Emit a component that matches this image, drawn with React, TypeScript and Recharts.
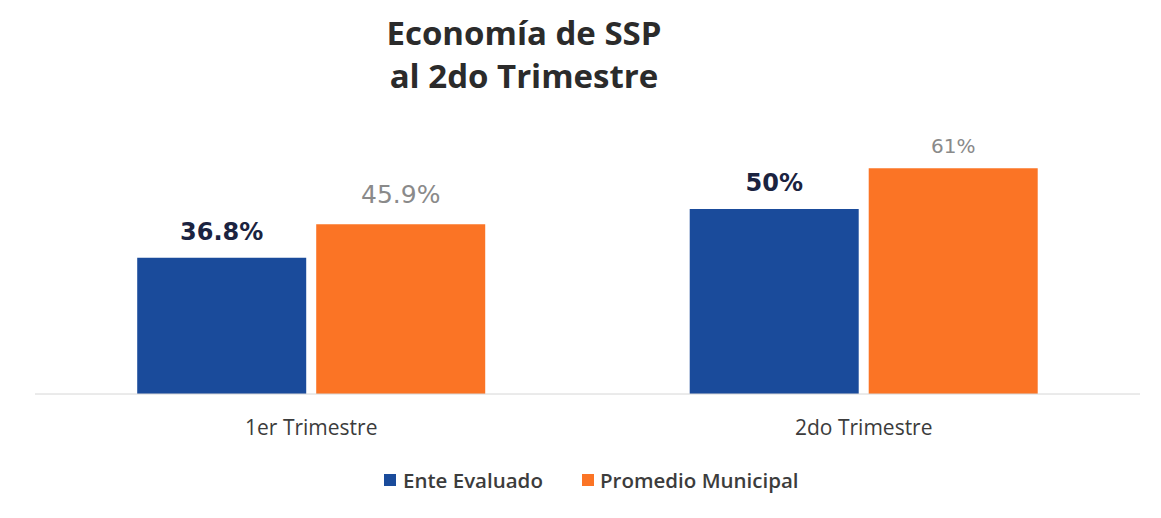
import React from "react";
import { BarChart, Bar, XAxis, YAxis, LabelList } from "recharts";

const categories = ["1er Trimestre", "2do Trimestre"];
const enteEvaluado = [36.8, 50];
const promedioMunicipal = [45.9, 61];
const enteLabels = ["36.8%", "50%"];
const promedioLabels = ["45.9%", "61%"];

const data = categories.map((c, i) => ({
  name: c,
  ente: enteEvaluado[i],
  promedio: promedioMunicipal[i],
}));

const FONT = "'Open Sans', 'Noto Sans', sans-serif";
const LABEL_FONT = "'DejaVu Sans', sans-serif";
const BLUE = "#1a4b9b";
const ORANGE = "#fb7425";

const EnteLabel = (props: any) => {
  const { x, y, width, index } = props;
  return (
    <text x={x + width / 2} y={y - 18} textAnchor="middle" fill="#1b2340" fontFamily={LABEL_FONT} fontWeight={700} fontSize={24}>
      {enteLabels[index]}
    </text>
  );
};

const PromLabel = (props: any) => {
  const { x, y, width, index } = props;
  const small = index === 1;
  return (
    <text x={x + width / 2} y={y - (small ? 15 : 21)} textAnchor="middle" fill="#8a8a8a" fontFamily={LABEL_FONT} fontWeight={400} fontSize={small ? 20 : 25}>
      {promedioLabels[index]}
    </text>
  );
};

export default function App() {
  return (
    <div style={{ position: "absolute", left: 0, top: 0, width: 1161, height: 518, background: "#ffffff" }}>
      <div style={{ position: "absolute", left: 0, top: 11, width: 1048, textAlign: "center", fontFamily: FONT, fontWeight: 700, fontSize: 33, lineHeight: "43px", color: "#2b2b2b" }}>
        Economía de SSP
        <br />
        al 2do Trimestre
      </div>
      <BarChart width={1161} height={518} data={data} margin={{ top: 135, right: 21, bottom: 94, left: 35 }} barGap={10} barCategoryGap="18.5%">
        <XAxis
          dataKey="name"
          axisLine={{ stroke: "#d6d6d6" }}
          tickLine={false}
          tick={{ fontFamily: FONT, fontSize: 21, fill: "#3c3c3c", fontWeight: 500 }}
          tickMargin={20}
        />
        <YAxis hide domain={[0, 70]} />
        <Bar dataKey="ente" fill={BLUE} isAnimationActive={false}>
          <LabelList dataKey="ente" content={EnteLabel} />
        </Bar>
        <Bar dataKey="promedio" fill={ORANGE} isAnimationActive={false}>
          <LabelList dataKey="promedio" content={PromLabel} />
        </Bar>
      </BarChart>
      <div style={{ position: "absolute", left: 384, top: 466, display: "flex", fontFamily: FONT, fontSize: 20.5, color: "#3c3c3c", fontWeight: 600, lineHeight: "28px" }}>
        <div style={{ display: "flex", alignItems: "center", width: 198 }}>
          <span style={{ display: "inline-block", width: 12, height: 12, background: BLUE, marginRight: 7 }} />
          Ente Evaluado
        </div>
        <div style={{ display: "flex", alignItems: "center" }}>
          <span style={{ display: "inline-block", width: 12, height: 12, background: ORANGE, marginRight: 6 }} />
          Promedio Municipal
        </div>
      </div>
    </div>
  );
}
